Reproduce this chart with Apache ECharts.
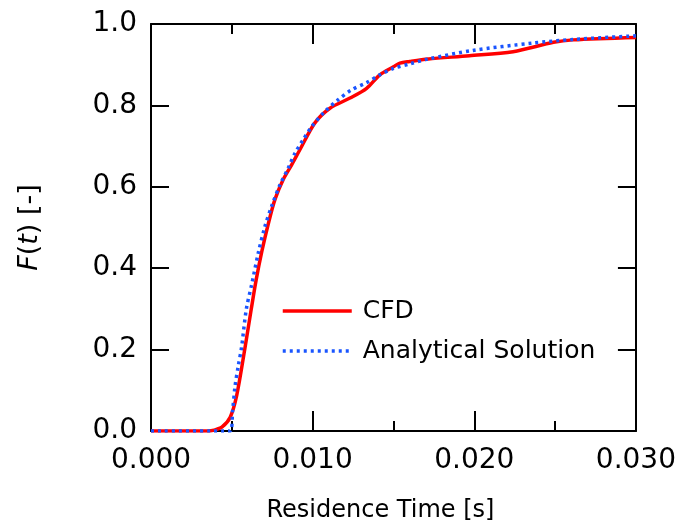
<!DOCTYPE html>
<html>
<head>
<meta charset="utf-8">
<script src="https://cdn.jsdelivr.net/npm/echarts@6/dist/echarts.min.js"></script>
<style>
html,body{margin:0;padding:0;background:#fff;}
#chart{width:679px;height:528px;}
</style>
</head>
<body>
<div id="chart"></div>
<script>
// Residence time [s]
var cfdTime = [0, 0.0035, 0.0039, 0.0044, 0.0049, 0.0053, 0.0058, 0.0062, 0.0065, 0.00685, 0.00725, 0.00767, 0.00818, 0.0087, 0.00921, 0.01014, 0.01107, 0.01231, 0.01334, 0.01416, 0.0150, 0.0154, 0.0160, 0.01715, 0.0197, 0.0224, 0.0249, 0.0261, 0.0300];
var cfdF    = [0, 0, 0.002, 0.01, 0.034, 0.087, 0.201, 0.299, 0.37, 0.44, 0.508, 0.569, 0.618, 0.654, 0.691, 0.757, 0.793, 0.818, 0.842, 0.875, 0.895, 0.904, 0.908, 0.914, 0.922, 0.932, 0.955, 0.961, 0.967];

var anaTime = [0, 0.0049, 0.00505, 0.0052, 0.0054, 0.0056, 0.0059, 0.00623, 0.00664, 0.00705, 0.00746, 0.00798, 0.00849, 0.00891, 0.00942, 0.00994, 0.01076, 0.01158, 0.0124, 0.01334, 0.01416, 0.0150, 0.0160, 0.01715, 0.0199, 0.0236, 0.0261, 0.0300];
var anaF    = [0, 0, 0.05, 0.11, 0.16, 0.205, 0.3, 0.36, 0.438, 0.503, 0.552, 0.605, 0.646, 0.683, 0.716, 0.748, 0.785, 0.814, 0.838, 0.856, 0.875, 0.891, 0.902, 0.914, 0.935, 0.953, 0.962, 0.971];

var xTicks = [0, 0.010, 0.020, 0.030];
var yTicks = [0, 0.2, 0.4, 0.6, 0.8, 1.0];
var seriesNames = ['CFD', 'Analytical Solution'];

function pairs(xs, ys){ return xs.map(function(x,i){ return [x, ys[i]]; }); }

var chart = echarts.init(document.getElementById('chart'), null, {renderer:'canvas'});
var font = 'DejaVu Sans';
var axisLine = {show:true, onZero:false, lineStyle:{color:'#000', width:2}};
chart.setOption({
  animation:false,
  backgroundColor:'#fff',
  textStyle:{fontFamily:font, color:'#000'},
  grid:{left:151, right:43, top:24, bottom:96, containLabel:false},
  legend:{
    data:[{name:seriesNames[0]},{name:seriesNames[1]}],
    orient:'vertical', left:276, top:291,
    itemWidth:69, itemHeight:14, itemGap:10,
    itemStyle:{opacity:0, borderWidth:0},
    lineStyle:{width:3.5},
    textStyle:{fontFamily:font, fontSize:25, color:'#000', lineHeight:30, padding:[0,0,0,6]}
  },
  xAxis:[{
    type:'value', min:0, max:0.03, interval:0.01, position:'bottom',
    name:'Residence Time [s]', nameLocation:'middle', nameGap:68,
    nameTextStyle:{fontFamily:font, fontSize:24, color:'#000', padding:[0,26,0,0]},
    axisLine:axisLine,
    axisTick:{show:true, inside:true, length:20, lineStyle:{color:'#000', width:2}},
    minorTick:{show:true, splitNumber:2, length:10, lineStyle:{color:'#000', width:2}},
    axisLabel:{margin:16, fontFamily:font, fontSize:28, color:'#000', formatter:function(v){ return v.toFixed(3); }},
    splitLine:{show:false}
  },{
    type:'value', min:0, max:0.03, interval:0.01, position:'top',
    axisLine:axisLine,
    axisTick:{show:true, inside:true, length:20, lineStyle:{color:'#000', width:2}},
    minorTick:{show:true, splitNumber:2, length:10, lineStyle:{color:'#000', width:2}},
    axisLabel:{show:false}, splitLine:{show:false}
  }],
  yAxis:[{
    type:'value', min:0, max:1, interval:0.2, position:'left',
    name:'{i|F}({i|t}) [-]', nameLocation:'middle', nameGap:108, nameRotate:90,
    nameTextStyle:{fontFamily:font, fontSize:27, color:'#000', rich:{i:{fontStyle:'italic', fontFamily:font, fontSize:27, color:'#000'}}},
    axisLine:axisLine,
    axisTick:{show:true, inside:true, length:18, lineStyle:{color:'#000', width:2}},
    axisLabel:{margin:14, fontFamily:font, fontSize:28, color:'#000', formatter:function(v){ return v.toFixed(1); }},
    splitLine:{show:false}
  },{
    type:'value', min:0, max:1, interval:0.2, position:'right',
    axisLine:axisLine,
    axisTick:{show:true, inside:true, length:18, lineStyle:{color:'#000', width:2}},
    axisLabel:{show:false}, splitLine:{show:false}
  }],
  series:[{
    name:seriesNames[0], type:'line', data:pairs(cfdTime, cfdF),
    showSymbol:false, symbol:'none', smooth:0.3,
    lineStyle:{color:'#ff0000', width:3.5}, itemStyle:{color:'#ff0000'}, z:2
  },{
    name:seriesNames[1], type:'line', data:pairs(anaTime, anaF),
    showSymbol:false, symbol:'none', smooth:0.3,
    lineStyle:{color:'#1a55ff', width:3.5, type:[3,4]}, itemStyle:{color:'#1a55ff'}, z:3
  }]
});
</script>
</body>
</html>
